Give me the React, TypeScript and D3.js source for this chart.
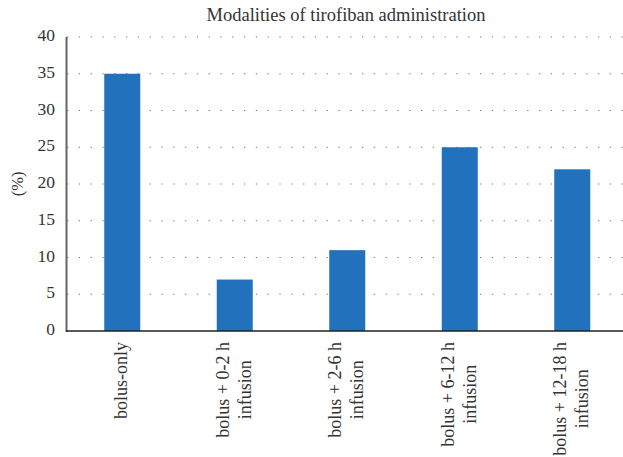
import React, { useEffect, useRef } from "react";
import * as d3 from "d3";

const categories: string[][] = [
  ["bolus-only"],
  ["bolus + 0-2 h", "infusion"],
  ["bolus + 2-6 h", "infusion"],
  ["bolus + 6-12 h", "infusion"],
  ["bolus + 12-18 h", "infusion"],
];
const values: number[] = [35, 7, 11, 25, 22];
const yTicks: number[] = [0, 5, 10, 15, 20, 25, 30, 35, 40];
const title = "Modalities of tirofiban administration";
const yLabel = "(%)";

const W = 623;
const H = 457;
const left = 66;
const right = 628.5;
const top = 37;
const bottom = 331;
const font = "Liberation Serif, DejaVu Serif, serif";
const textColor = "#333";
const barColor = "#2271BC";

export default function App() {
  const ref = useRef<SVGSVGElement>(null);
  useEffect(() => {
    const svg = d3.select(ref.current);
    svg.selectAll("*").remove();
    const x = d3
      .scaleBand<number>()
      .domain(categories.map((_, i) => i))
      .range([left, right])
      .paddingInner(0.68)
      .paddingOuter(0.34);
    const y = d3.scaleLinear().domain([0, 40]).range([bottom, top]);

    // grid
    svg
      .append("g")
      .selectAll("line")
      .data(yTicks.filter((t) => t > 0))
      .join("line")
      .attr("x1", 67)
      .attr("x2", W)
      .attr("y1", (d) => y(d))
      .attr("y2", (d) => y(d))
      .attr("stroke", "#777")
      .attr("stroke-width", 1.2)
      .attr("stroke-dasharray", "1.3 10.5");

    // bars
    svg
      .append("g")
      .selectAll("rect")
      .data(values)
      .join("rect")
      .attr("x", (_, i) => x(i)!)
      .attr("width", x.bandwidth())
      .attr("y", (d) => y(d))
      .attr("height", (d) => bottom - y(d))
      .attr("fill", barColor);

    // axes
    svg
      .append("line")
      .attr("x1", left + 0.5)
      .attr("x2", left + 0.5)
      .attr("y1", top)
      .attr("y2", bottom + 1)
      .attr("stroke", "#666")
      .attr("stroke-width", 2);
    svg
      .append("line")
      .attr("x1", left)
      .attr("x2", W)
      .attr("y1", bottom)
      .attr("y2", bottom)
      .attr("stroke", "#222")
      .attr("stroke-width", 1.6);

    // y tick labels
    svg
      .append("g")
      .selectAll("text")
      .data(yTicks)
      .join("text")
      .attr("x", 55)
      .attr("y", (d) => y(d) - 2)
      .attr("text-anchor", "end")
      .attr("dominant-baseline", "central")
      .style("font-family", font)
      .style("font-size", "17.5px")
      .attr("fill", textColor)
      .text((d) => String(d));

    // x labels
    categories.forEach((lines, i) => {
      const cx = x(i)! + x.bandwidth() / 2;
      const g = svg.append("g");
      const texts = lines.map((ln) =>
        g
          .append("text")
          .style("font-family", font)
          .style("font-size", "18px")
          .attr("fill", textColor)
          .attr("text-anchor", "middle")
          .text(ln)
      );
      const widths = texts.map((t) => (t.node() as SVGTextElement).getComputedTextLength());
      const maxW = Math.max(...widths);
      const ly = 342 + maxW / 2;
      const lh = 22;
      const n = lines.length;
      texts.forEach((t, k) => {
        const bx = cx + 5 + (k - (n - 1) / 2) * lh;
        t.attr("transform", `translate(${bx},${ly}) rotate(-90)`);
      });
    });

    // title
    svg
      .append("text")
      .attr("x", 346)
      .attr("y", 21)
      .attr("text-anchor", "middle")
      .style("font-family", font)
      .style("font-size", "18.5px")
      .attr("fill", textColor)
      .text(title);

    // y label
    svg
      .append("text")
      .attr("transform", `translate(23,${(top + bottom) / 2}) rotate(-90)`)
      .attr("text-anchor", "middle")
      .style("font-family", font)
      .style("font-size", "16.5px")
      .attr("fill", textColor)
      .text(yLabel);
  }, []);
  return (
    <svg
      ref={ref}
      width={W}
      height={H}
      style={{ position: "absolute", left: 0, top: 0, background: "#fff" }}
    />
  );
}
